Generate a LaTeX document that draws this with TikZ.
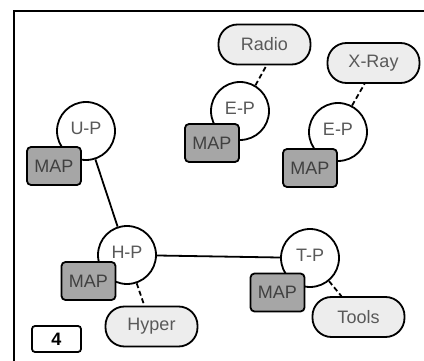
\documentclass[tikz,border=0pt]{standalone}
\usepackage{fontspec}
\setmainfont{Liberation Sans}
\begin{document}
\begin{tikzpicture}[x=1pt,y=-1pt,
  every node/.style={inner sep=0pt, font=\fontsize{18}{20}\selectfont},
  peer/.style={circle, draw=black, line width=1.8pt, fill=white, minimum size=58pt, text=black!65},
  mapbox/.style={rectangle, rounded corners=4pt, draw=black, line width=1.8pt, fill=black!35, minimum width=54pt, minimum height=38pt, text=black!75},
  tagbox/.style={rectangle, rounded corners=19pt, draw=black, line width=1.8pt, fill=black!7, minimum width=92pt, minimum height=40pt, text=black!65},
  link/.style={line width=1.8pt},
  dlink/.style={line width=1.8pt, dash pattern=on 5pt off 3pt}
]
\useasboundingbox (0,0) rectangle (424,361);
\draw[line width=1.8pt] (14,370) -- (14,11) -- (430,11);

% peers
\node[peer] (up) at (86,131) {};
\node[peer] (hp) at (127,255) {};
\node[peer] (tp) at (310,258) {};
\node[peer] (ep1) at (240,111) {};
\node[peer] (ep2) at (338,132) {};
\node[text=black!65] (upl) at (86,128) {U-P};
\node[text=black!65] (hpl) at (127,252) {H-P};
\node[text=black!65] (tpl) at (310,255) {T-P};
\node[text=black!65] (ep1l) at (240,108) {E-P};
\node[text=black!65] (ep2l) at (338,129) {E-P};

% links
\draw[link] (up) -- (hp);
\draw[link] (hp) -- (tp);

% map boxes
\node[mapbox] (m1) at (54,166) {MAP};
\node[mapbox] (m2) at (88.5,281) {MAP};
\node[mapbox] (m3) at (277.5,292.5) {MAP};
\node[mapbox] (m4) at (212,143) {MAP};
\node[mapbox] (m5) at (310,168) {MAP};

% tags
\node[tagbox] (radio) at (264.5,44.5) {Radio};
\node[tagbox] (xray) at (373.5,63) {X-Ray};
\node[tagbox] (hyper) at (151.5,326.5) {Hyper};
\node[tagbox] (tools) at (358.5,317) {Tools};

\draw[dlink] (ep1.59) -- ([xshift=2pt]radio.south);
\draw[dlink] (ep2.62) -- ([xshift=-9pt]xray.south);
\draw[dlink] (hp) -- (hyper);
\draw[dlink] (tp) -- (tools);

% number box
\node[rectangle, rounded corners=3pt, draw=black, line width=1.8pt, fill=white, minimum width=49pt, minimum height=26pt, font=\fontsize{18}{20}\selectfont\bfseries] (num) at (56.5,339) {4};
\end{tikzpicture}
\end{document}
